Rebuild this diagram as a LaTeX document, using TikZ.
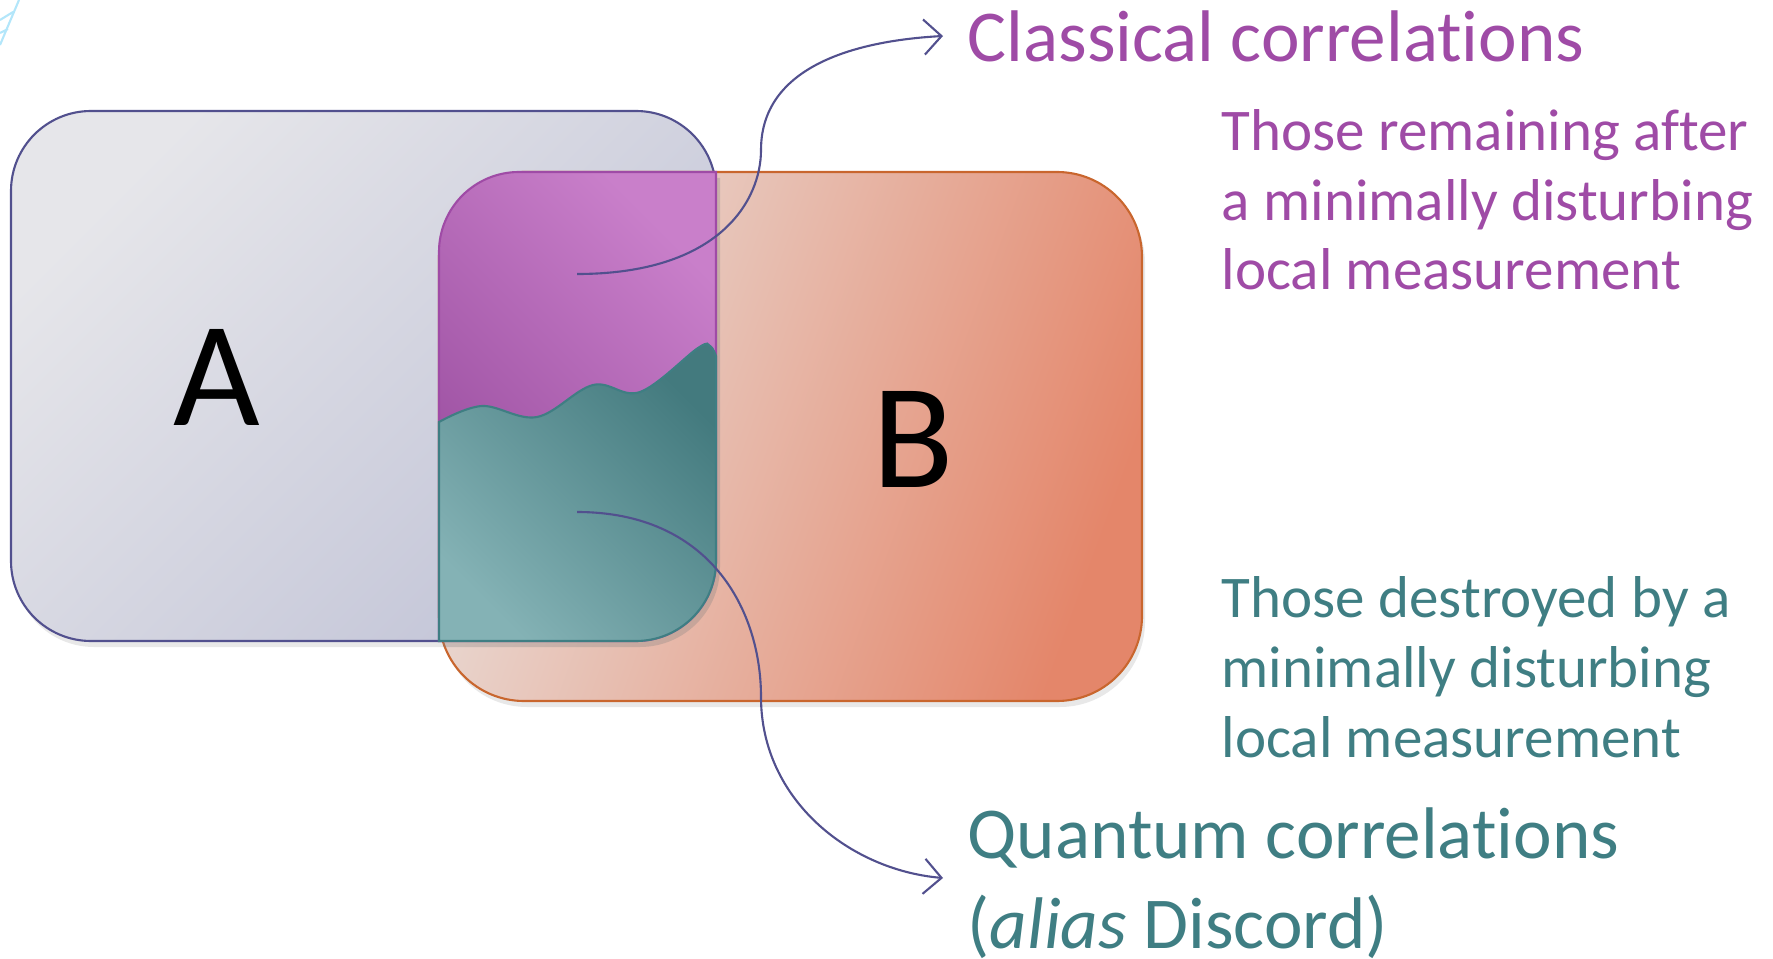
\documentclass[tikz,border=0pt]{standalone}
\usepackage{fontspec}
\setmainfont[Ligatures=NoCommon]{Carlito}
\usetikzlibrary{arrows.meta,shadows}

\definecolor{boxline}{HTML}{52508E}
\definecolor{Bline}{HTML}{C9662E}
\definecolor{clpurple}{HTML}{9F4BA6}
\definecolor{qteal}{HTML}{3F7E83}
\definecolor{Alight}{HTML}{E6E6EA}
\definecolor{Adark}{HTML}{C2C4D7}
\definecolor{Blight}{HTML}{E9DED9}
\definecolor{Bdark}{HTML}{E4866A}
\definecolor{purplelight}{HTML}{C97FCA}
\definecolor{purpledark}{HTML}{964A9C}
\definecolor{teallight}{HTML}{84B2B5}
\definecolor{tealdark}{HTML}{437A7E}

\tikzset{
  setbox/.style={draw, line width=0.6pt, inner sep=0pt,
    drop shadow={shadow xshift=0.03cm, shadow yshift=-0.06cm, opacity=0.18}},
  bigletter/.style={font=\fontsize{42.6}{48}\selectfont, inner sep=0pt},
  headline/.style={font=\fontsize{20.8}{25.6}\selectfont, anchor=base west, align=left, inner sep=0pt},
  remark/.style={font=\fontsize{16.8}{19.9}\selectfont, anchor=base west, align=left, inner sep=0pt},
  pointer/.style={boxline, line width=0.6pt, -{Straight Barb[length=5pt,width=10pt]}},
}

\begin{document}
\begin{tikzpicture}
  \useasboundingbox (0,0) rectangle (17.73,-9.59);
  % faint bit of background in the corner
  \draw[cyan!30, line width=0.6pt] (0.19,0) -- (0,-0.45) (0,-0.2) -- (0.13,-0.12) (0,-0.33) -- (0.08,-0.29);

  % the two subsystems
  \node[setbox, draw=boxline, rounded corners=0.8cm, minimum width=7.05cm, minimum height=5.30cm,
    top color=Alight, bottom color=Adark, shading angle=45] (boxA) at (3.635,-3.76) {};
  \node[setbox, draw=Bline, rounded corners=0.85cm, minimum width=7.03cm, minimum height=5.29cm,
    top color=Blight, bottom color=Bdark, shading angle=70] (boxB) at (7.905,-4.365) {};

  % overlap: classical part on top
  \path[draw=clpurple, line width=0.6pt, top color=purplelight, bottom color=purpledark, shading angle=-45,
    drop shadow={shadow xshift=0.04cm, shadow yshift=-0.06cm, opacity=0.3}]
    (4.39,-6.41) -- (4.39,-2.52) arc[start angle=180, end angle=90, radius=0.8]
    -- (7.16,-1.72) -- (7.16,-5.61) arc[start angle=0, end angle=-90, radius=0.8] -- cycle;
  % quantum part below the wave
  \path[draw=qteal, line width=0.6pt, top color=tealdark, bottom color=teallight, shading angle=-45]
    (4.39,-6.41) -- (4.39,-4.22)
    -- plot[smooth, tension=0.6] coordinates {(4.39,-4.22) (4.82,-4.06) (5.37,-4.17) (5.93,-3.85)
      (6.40,-3.92) (6.98,-3.48) (7.10,-3.46) (7.16,-3.56)}
    -- (7.16,-5.61) arc[start angle=0, end angle=-90, radius=0.8] -- cycle;

  \node[bigletter] (labA) at (2.17,-3.775) {A};
  \node[bigletter] (labB) at (9.13,-4.39) {B};

  % multi-line nodes: base is the last line
  \node[headline, clpurple] (classical) at (9.67,-0.62) {Classical correlations};
  \node[remark, clpurple] (remain) at (12.21,-2.90) {Those remaining after\\a minimally disturbing\\local measurement};
  \node[remark, qteal] (destroy) at (12.21,-7.57) {Those destroyed by a\\minimally disturbing\\local measurement};
  \node[headline, qteal] (quantum) at (9.67,-9.48) {Quantum correlations\\(\textit{alias} Discord)};

  \coordinate (cltail) at (5.77,-2.74);
  \coordinate (clhead) at (9.43,-0.36);
  \coordinate (qtail) at (5.77,-5.12);
  \coordinate (qhead) at (9.43,-8.78);

  \draw[pointer] (cltail) .. controls (7.2,-2.74) and (7.61,-2.0) .. (7.61,-1.5)
    .. controls (7.61,-0.6) and (8.7,-0.40) .. (clhead);
  \draw[pointer] (qtail) .. controls (7.1,-5.12) and (7.61,-6.1) .. (7.61,-6.97)
    .. controls (7.61,-8.0) and (8.5,-8.7) .. (qhead);
\end{tikzpicture}
\end{document}
